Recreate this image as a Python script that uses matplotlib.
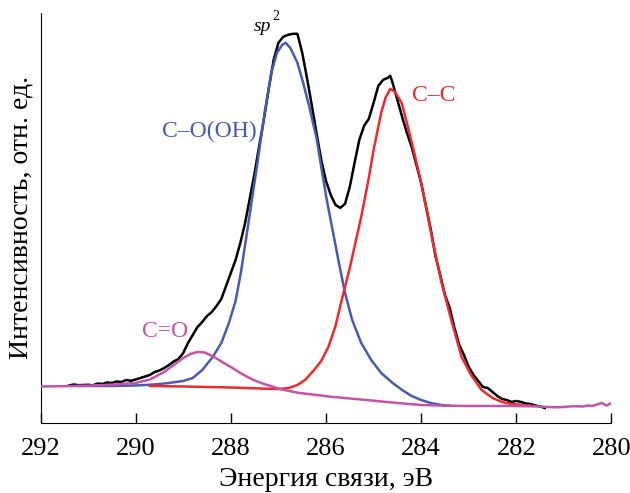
import matplotlib

matplotlib.use("Agg")
import matplotlib.pyplot as plt

# C=O component plus its sloping background
co_x = [292.0, 291.5, 291.0, 290.5, 290.0, 289.7, 289.4, 289.2, 289.0, 288.85, 288.7,
        288.55, 288.35, 288.15, 288.0, 287.8, 287.65, 287.5, 287.3, 287.1, 286.95, 286.6,
        286.2, 285.9, 285.5, 285.0, 284.5, 284.0, 283.5, 283.0, 282.5, 282.0, 281.5,
        281.2, 281.0, 280.8, 280.6, 280.5, 280.4, 280.3, 280.2, 280.1, 280.0]
co_y = [36.5, 36.8, 37.3, 38.3, 40.0, 43.5, 51.0, 58.0, 65.0, 69.0, 71.0,
        70.5, 66.0, 60.0, 56.0, 50.0, 46.0, 42.5, 39.0, 36.0, 33.7, 30.3,
        28.0, 26.3, 24.5, 22.3, 20.0, 18.0, 17.3, 17.0, 17.0, 17.0, 16.5,
        15.7, 16.0, 16.8, 16.5, 17.5, 17.0, 18.5, 20.0, 17.5, 20.0]

# C-C component
cc_x = [289.7, 289.0, 288.0, 287.4, 287.0, 286.78, 286.6, 286.44, 286.25, 286.1, 285.95,
        285.8, 285.68, 285.5, 285.26, 285.1, 285.0, 284.84, 284.75, 284.65, 284.55, 284.41,
        284.3, 284.16, 284.0, 283.9, 283.75, 283.57, 283.35, 283.15, 282.95, 282.73, 282.5,
        282.3, 282.1, 281.88, 281.7]
cc_y = [37.0, 36.5, 35.5, 34.5, 34.0, 35.0, 38.0, 43.0, 53.0, 62.0, 76.0,
        97.0, 121.0, 155.0, 206.0, 245.0, 273.0, 310.0, 325.0, 334.0, 331.0, 320.0,
        300.0, 273.0, 240.0, 216.0, 180.0, 140.0, 100.0, 66.0, 48.0, 33.0, 25.0,
        21.0, 19.0, 18.0, 17.5]

# C-O(OH) component
coh_x = [291.2, 290.5, 290.0, 289.6, 289.3, 289.0, 288.8, 288.6, 288.38, 288.2, 288.04,
         287.9, 287.79, 287.62, 287.45, 287.28, 287.15, 287.03, 286.92, 286.85, 286.75,
         286.6, 286.48, 286.35, 286.2, 286.1, 285.98, 285.85, 285.72, 285.6, 285.45,
         285.26, 285.05, 284.84, 284.6, 284.4, 284.2, 284.0, 283.8, 283.57, 283.4]
coh_y = [37.0, 37.0, 37.5, 38.5, 40.0, 42.0, 45.0, 53.0, 66.0, 80.0, 100.0,
         122.0, 150.0, 203.0, 257.0, 313.0, 350.0, 370.0, 378.0, 380.0, 375.0,
         360.0, 340.0, 316.0, 285.0, 256.0, 222.0, 190.0, 158.0, 130.0, 103.0,
         80.0, 63.0, 50.0, 40.0, 33.0, 27.0, 23.0, 20.0, 18.0, 17.3]

# measured spectrum
exp_x = [291.4, 291.3, 291.2, 291.0, 290.9, 290.8, 290.7, 290.6, 290.5, 290.4, 290.3,
         290.2, 290.1, 290.0, 289.9, 289.8, 289.7, 289.6, 289.5, 289.4, 289.3, 289.2,
         289.1, 289.0, 288.9, 288.8, 288.7, 288.6, 288.5, 288.4, 288.3, 288.2, 288.1,
         288.0, 287.9, 287.8, 287.7, 287.6, 287.5, 287.4, 287.3, 287.2, 287.1, 287.0,
         286.9, 286.8, 286.7, 286.6, 286.5, 286.4, 286.3, 286.2, 286.1, 286.0, 285.9,
         285.8, 285.7, 285.6, 285.5, 285.4, 285.3, 285.2, 285.1, 285.0, 284.9, 284.8,
         284.7, 284.65, 284.6, 284.5, 284.4, 284.3, 284.2, 284.1, 284.0, 283.9, 283.8,
         283.7, 283.6, 283.5, 283.4, 283.3, 283.2, 283.1, 283.0, 282.9, 282.8, 282.7,
         282.6, 282.5, 282.4, 282.3, 282.2, 282.1, 282.0, 281.9, 281.8, 281.7, 281.6,
         281.5, 281.4]
exp_y = [37.5, 38.5, 37.8, 38.2, 37.6, 39.5, 39.0, 40.5, 40.0, 41.5, 41.0,
         43.0, 42.2, 43.5, 45.0, 46.5, 48.0, 51.0, 52.5, 55.0, 58.0, 61.5,
         64.0, 70.0, 80.0, 88.0, 96.0, 101.0, 107.0, 111.0, 117.0, 124.0, 137.0,
         150.0, 163.0, 180.0, 200.0, 225.0, 250.0, 278.0, 305.0, 335.0, 363.0, 380.0,
         386.0, 388.0, 389.0, 389.0, 370.0, 345.0, 318.0, 290.0, 263.0, 242.0, 228.0,
         218.0, 215.0, 219.0, 236.0, 260.0, 283.0, 297.0, 304.0, 320.0, 337.0, 343.0,
         345.0, 347.0, 340.0, 323.0, 306.0, 290.0, 276.0, 258.0, 240.0, 217.0, 194.0,
         167.0, 148.0, 128.0, 115.0, 95.0, 78.0, 68.0, 56.0, 48.0, 42.0, 36.0,
         35.0, 31.0, 27.0, 24.0, 23.0, 21.0, 22.0, 21.0, 19.5, 19.0, 17.5,
         16.5, 15.0]

x_ticks = [292, 290, 288, 286, 284, 282, 280]

BLUE = "#4a5aac"
RED = "#ee2a2e"
MAGENTA = "#c454a8"
SERIF = ["Liberation Serif", "DejaVu Serif"]

plt.rcParams["font.family"] = SERIF

fig = plt.figure(figsize=(6.3, 4.93), dpi=100)
ax = fig.add_axes([0.0643, 0.142, 0.9063, 0.832])

ax.plot(exp_x, exp_y, color="black", lw=1.8, zorder=2)
ax.plot(coh_x, coh_y, color=BLUE, lw=1.8, zorder=3)
ax.plot(cc_x, cc_y, color=RED, lw=1.8, zorder=3)
ax.plot(co_x, co_y, color=MAGENTA, lw=1.8, zorder=4)

ax.text(287.15, 388, "sp", style="italic", fontsize=14, ha="right", va="bottom")
ax.text(287.13, 400, "2", fontsize=10, ha="left", va="bottom")
ax.text(288.45, 291, "C–O(OH)", color=BLUE, fontsize=17, ha="center", va="center")
ax.text(283.74, 327, "C–C", color=RED, fontsize=17, ha="center", va="center")
ax.text(289.39, 91, "C=O", color=MAGENTA, fontsize=17, ha="center", va="center")

ax.set_xlim(292, 280)
ax.set_ylim(0, 410)
ax.set_xticks(x_ticks)
ax.set_yticks([])
ax.tick_params(axis="x", direction="in", length=7, width=1, labelsize=19, pad=11)
ax.spines["top"].set_visible(False)
ax.spines["right"].set_visible(False)
ax.set_xlabel("Энергия связи, эВ", fontsize=20, labelpad=5)
ax.set_ylabel("Интенсивность, отн. ед.", fontsize=20, labelpad=5)

fig.savefig("out.png", dpi=100)
